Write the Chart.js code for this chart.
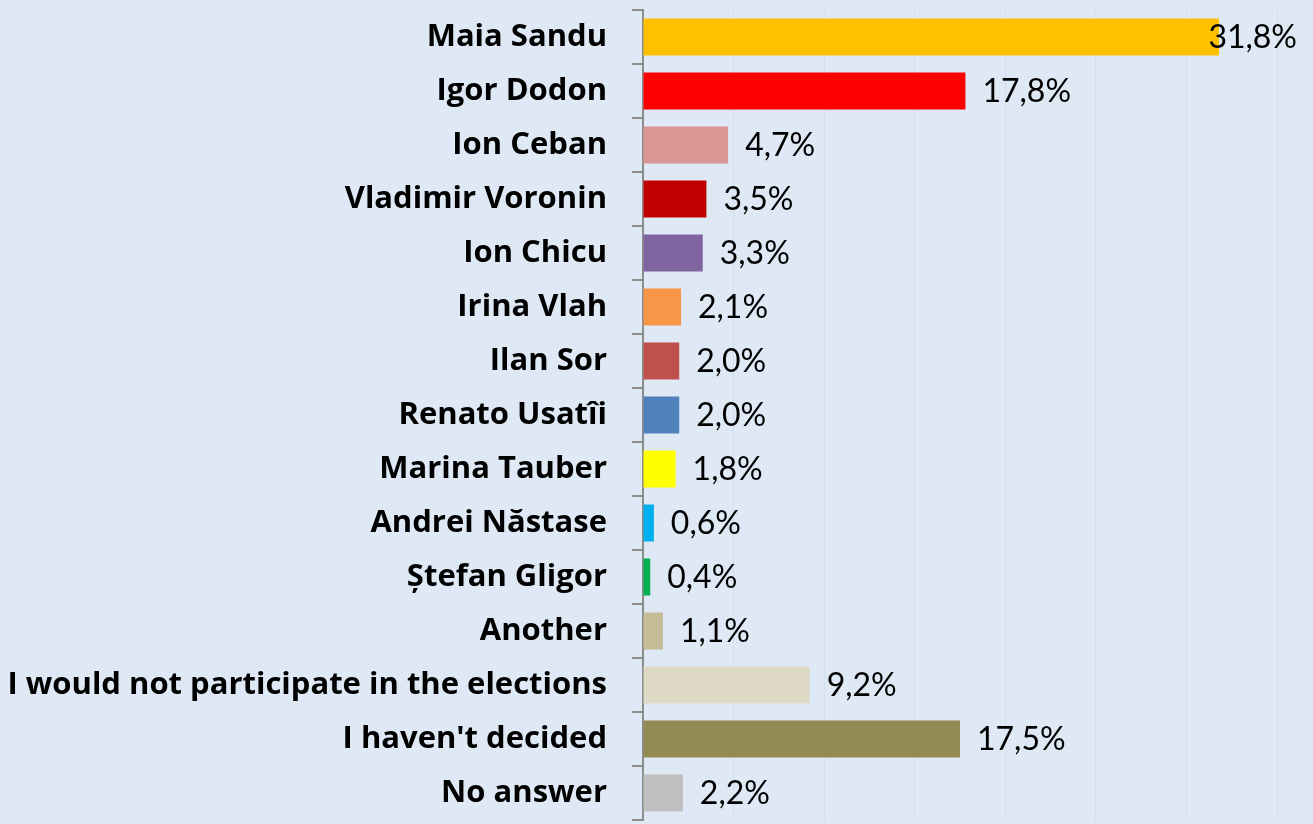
<!DOCTYPE html>
<html>
<head>
<meta charset="utf-8">
<script src="https://cdn.jsdelivr.net/npm/chart.js@4/dist/chart.umd.min.js"></script>
<style>
    html, body { margin: 0; padding: 0; background: #DEE9F5; }
    #wrap { width: 1313px; height: 824px; }
</style>
</head>
<body>
<div id="wrap"><canvas id="chart" width="1313" height="824"></canvas></div>
<script>
// Chart data
const candidates = [
    'Maia Sandu', 'Igor Dodon', 'Ion Ceban', 'Vladimir Voronin', 'Ion Chicu',
    'Irina Vlah', 'Ilan Sor', 'Renato Usatîi', 'Marina Tauber', 'Andrei Năstase',
    'Ștefan Gligor', 'Another', 'I would not participate in the elections',
    "I haven't decided", 'No answer'
];
const shares = [31.8, 17.8, 4.7, 3.5, 3.3, 2.1, 2.0, 2.0, 1.8, 0.6, 0.4, 1.1, 9.2, 17.5, 2.2];
const barColors = [
    '#FFC000', '#FF0000', '#DA9694', '#C00000', '#8064A2',
    '#F79646', '#C0504D', '#4F81BD', '#FFFF00', '#00B0F0',
    '#00B050', '#C4BD97', '#DDD9C4', '#948A54', '#BFBFBF'
];
const axisMax = 35;
const axisStep = 5;

const categoryFont = '"Open Sans", Lato, sans-serif';
const valueFont = 'Lato, "Open Sans", sans-serif';

// Value labels drawn right of each bar (kept inside the canvas)
const valueLabels = {
    id: 'valueLabels',
    afterDatasetsDraw(chart) {
        const ctx = chart.ctx;
        const meta = chart.getDatasetMeta(0);
        ctx.save();
        ctx.font = '32px ' + valueFont;
        ctx.fillStyle = '#000';
        ctx.textBaseline = 'middle';
        meta.data.forEach((bar, i) => {
            const text = shares[i].toFixed(1).replace('.', ',') + '%';
            const w = ctx.measureText(text).width;
            let x = bar.x + 17;
            if (x + w > chart.width - 16) x = chart.width - 16 - w;
            ctx.fillText(text, x, bar.y + 1);
        });
        ctx.restore();
    }
};

new Chart(document.getElementById('chart'), {
    type: 'bar',
    data: {
        labels: candidates,
        datasets: [{
            data: shares,
            backgroundColor: barColors,
            categoryPercentage: 1,
            barPercentage: 0.685
        }]
    },
    options: {
        indexAxis: 'y',
        responsive: false,
        animation: false,
        layout: { padding: { top: 10, bottom: 4, right: 36, left: 0 } },
        plugins: {
            legend: { display: false },
            tooltip: { enabled: false }
        },
        scales: {
            x: {
                min: 0,
                max: axisMax,
                afterFit(scale) { scale.height = 0; },
                ticks: { display: false, stepSize: axisStep },
                grid: { color: '#D3DFEC', lineWidth: 1, drawTicks: false },
                border: { display: false }
            },
            y: {
                afterFit(scale) {
                    scale.width = 643;
                    scale.paddingTop = 0;
                    scale.paddingBottom = 0;
                },
                ticks: {
                    color: '#000',
                    padding: 25,
                    font: { family: categoryFont, size: 31, weight: 'bold' }
                },
                grid: {
                    drawOnChartArea: false,
                    tickLength: 11,
                    tickColor: '#8C8C8C',
                    lineWidth: 2
                },
                border: { color: '#8C8C8C', width: 2 }
            }
        }
    },
    plugins: [valueLabels]
});
</script>
</body>
</html>
